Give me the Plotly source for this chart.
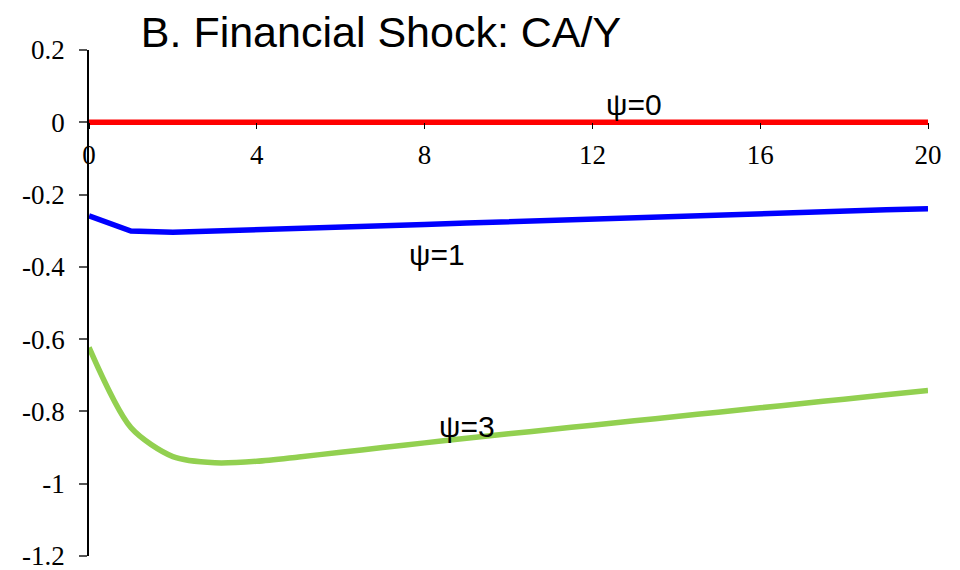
import plotly.graph_objects as go

periods = list(range(21))
psi0 = [0.0] * 21
psi1 = [-0.259, -0.301, -0.304, -0.301, -0.297, -0.294, -0.290, -0.286, -0.283, -0.279,
        -0.275, -0.271, -0.267, -0.264, -0.260, -0.256, -0.252, -0.248, -0.245, -0.242, -0.239]
psi3 = [-0.623, -0.845, -0.925, -0.942, -0.938, -0.926, -0.913, -0.900, -0.887, -0.874,
        -0.862, -0.850, -0.838, -0.826, -0.814, -0.802, -0.790, -0.778, -0.766, -0.754, -0.742]
series_labels = ["ψ=0", "ψ=1", "ψ=3"]
label_pos = [(13.0, 0.05), (8.3, -0.365), (9.0, -0.841)]
x_ticks = [0, 4, 8, 12, 16, 20]
y_ticks = [0.2, 0, -0.2, -0.4, -0.6, -0.8, -1, -1.2]
y_ticktext = ["0.2", "0", "-0.2", "-0.4", "-0.6", "-0.8", "-1", "-1.2"]

fig = go.Figure()
fig.add_trace(go.Scatter(x=periods, y=psi0, mode="lines", line=dict(color="#ff0000", width=5.5), showlegend=False))
fig.add_trace(go.Scatter(x=periods, y=psi1, mode="lines", line=dict(color="#0000ff", width=5.5), showlegend=False))
fig.add_trace(go.Scatter(x=periods, y=psi3, mode="lines", line=dict(color="#92d050", width=5.5, shape="spline", smoothing=0.8), showlegend=False))

for t, (lx, ly) in zip(series_labels, label_pos):
    fig.add_annotation(x=lx, y=ly, text=t, showarrow=False,
                       font=dict(family="Liberation Sans, Arial", size=30, color="black"))

fig.update_layout(
    width=960, height=570,
    margin=dict(l=81, r=40, t=42, b=22, autoexpand=False),
    paper_bgcolor="white", plot_bgcolor="white",
    title=dict(text="B. Financial Shock: CA/Y", x=373/960, xanchor="center", y=1 - 24/570, yanchor="middle",
               font=dict(family="Liberation Sans, Arial", size=43, color="black")),
    xaxis=dict(range=[0, 20], tickvals=x_ticks, ticktext=[str(v) for v in x_ticks],
               anchor="free", position=1.2 / 1.4, showline=False, showgrid=False, zeroline=False,
               automargin=False, ticklabelstandoff=2,
               ticks="outside", ticklen=6, tickcolor="black", tickwidth=1,
               tickfont=dict(family="Liberation Serif, Times New Roman", size=27, color="black")),
    yaxis=dict(range=[-1.2, 0.2], tickvals=y_ticks, ticktext=y_ticktext,
               showline=True, linecolor="black", linewidth=1.5, showgrid=False, zeroline=False,
               automargin=False, ticklabelstandoff=9,
               ticks="outside", ticklen=8, tickcolor="#555555", tickwidth=1.5,
               tickfont=dict(family="Liberation Serif, Times New Roman", size=27, color="black")),
)

fig.write_html("out.html")
